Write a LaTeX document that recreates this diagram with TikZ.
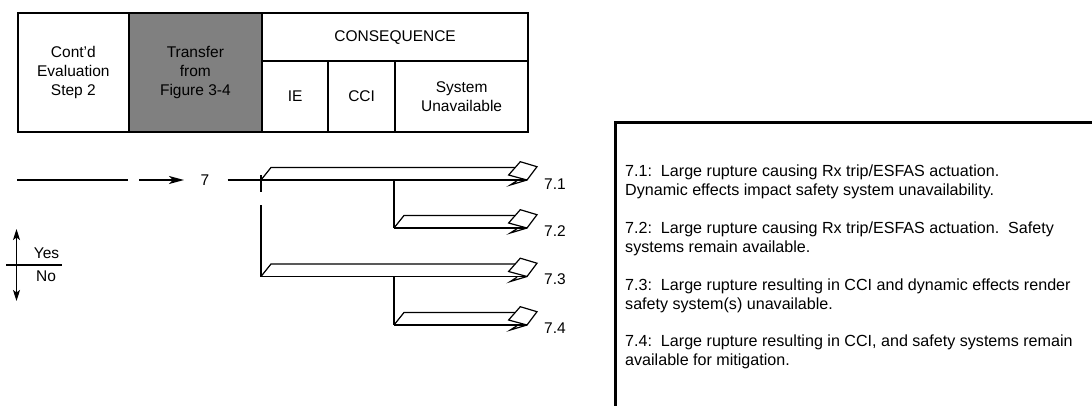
\documentclass[tikz,border=0pt]{standalone}
\usepackage{fontspec}
\setmainfont{Liberation Sans}
\usetikzlibrary{arrows.meta,calc}

\tikzset{
  txt/.style={inner sep=0pt, font=\fontsize{15.5}{19}\selectfont},
  cell/.style={txt, draw, line width=2.2pt, anchor=north west, align=center},
  wire/.style={line width=1.2pt},
  note/.style={inner sep=0pt, anchor=base west, font=\fontsize{16.1}{19}\selectfont},
  notebox/.style={draw, line width=3pt, anchor=north west, inner sep=0pt},
  bigtip/.style={-{Stealth[length=15pt,width=8pt,inset=4pt]}},
  legtip/.style={{Stealth[length=11pt,width=7pt,inset=2.5pt]}-{Stealth[length=11pt,width=7pt,inset=2.5pt]}},
}

% band with a perspective arrowhead: #1 start of the lower edge, #2 tip
\newcommand\drawband[2]{%
  \draw[wire] (#1) -- ++(10,-12.5) -- ($(#2)+(-12,-12.5)$);
  \draw[wire, line join=miter] (#2) -- ++(-18.4,-5) -- ++(11.7,-13.3) -- ++(16.7,5) -- cycle;
  \draw[wire] (#2) -- ++(-16.7,5) -- ++(6.7,-4.3);
}

\begin{document}
\begin{tikzpicture}[x=1pt, y=-1pt]
  \useasboundingbox (0,0) rectangle (1092,405);
  \clip (0,0) rectangle (1092,405);

  % header table
  \node[cell, minimum width=110.5pt, minimum height=119pt] (step) at (17,12) {Cont'd\\Evaluation\\Step 2};
  \node[cell, fill={rgb,255:red,128;green,128;blue,128}, minimum width=133.5pt, minimum height=119pt] (xfer) at (127.5,12) {Transfer\\from\\Figure 3-4};
  \node[cell, minimum width=266pt, minimum height=48pt] (cons) at (261,12) {CONSEQUENCE};
  \node[cell, minimum width=66pt, minimum height=71pt] (ie) at (261,60) {IE};
  \node[cell, minimum width=67pt, minimum height=71pt] (cci) at (327,60) {CCI};
  \node[cell, minimum width=133pt, minimum height=71pt] (sys) at (394,60) {System\\Unavailable};

  % entry line and transfer arrow
  \coordinate (a0) at (17,180);
  \coordinate (a1) at (127.5,180);
  \coordinate (a2) at (139,180);
  \coordinate (a3) at (184,180);
  \coordinate (a4) at (227.5,180);
  \node[txt, anchor=base] (n7) at (205,185.5) {7};
  \draw[wire] (a0) -- (a1);
  \draw[wire, bigtip] (a2) -- (a3);

  % branch points
  \coordinate (s1) at (261,180);
  \coordinate (s2) at (394,228);
  \coordinate (s3) at (261,276.5);
  \coordinate (s4) at (394,325);
  \coordinate (t1) at (527,180);
  \coordinate (t2) at (527,228);
  \coordinate (t3) at (527,276.5);
  \coordinate (t4) at (527,325);
  \coordinate (k1) at (261,175);
  \coordinate (k2) at (261,192);
  \coordinate (k3) at (261,205);
  \coordinate (m2) at (394,180);
  \coordinate (m4) at (394,276.5);

  % verticals
  \draw[wire] (k1) -- (k2);
  \draw[wire] (k3) -- (s3);
  \draw[wire] (m2) -- (s2);
  \draw[wire] (m4) -- (s4);

  % lower edges of the bands
  \draw[wire] (a4) -- (t1);
  \draw[wire] (s2) -- (t2);
  \draw[wire] (s3) -- (t3);
  \draw[wire] (s4) -- (t4);

  \drawband{s1}{t1}
  \drawband{s2}{t2}
  \drawband{s3}{t3}
  \drawband{s4}{t4}

  % end state labels
  \node[txt, anchor=base west] (e1) at (544,189) {7.1};
  \node[txt, anchor=base west] (e2) at (544,236) {7.2};
  \node[txt, anchor=base west] (e3) at (544,284.5) {7.3};
  \node[txt, anchor=base west] (e4) at (544,333) {7.4};

  % yes/no legend
  \coordinate (y0) at (16.5,229);
  \coordinate (y1) at (16.5,301);
  \coordinate (h0) at (6,265);
  \coordinate (h1) at (62,265);
  \draw[wire, legtip] (y0) -- (y1);
  \draw[wire] (h0) -- (h1);
  \node[txt, anchor=base] (yes) at (46.5,258.5) {Yes};
  \node[txt, anchor=base] (no) at (46,281.5) {No};

  % description box
  \node[notebox, minimum width=520pt, minimum height=320pt] (notes) at (614,121) {};
  \node[note] (d1) at (625,176.5) {7.1:\ \ Large rupture causing Rx trip/ESFAS actuation.};
  \node[note] (d2) at (625,195.5) {Dynamic effects impact safety system unavailability.};
  \node[note] (d3) at (625,233) {7.2:\ \ Large rupture causing Rx trip/ESFAS actuation.\ \ Safety};
  \node[note] (d4) at (625,252) {systems remain available.};
  \node[note] (d5) at (625,290.5) {7.3:\ \ Large rupture resulting in CCI and dynamic effects render};
  \node[note] (d6) at (625,309.5) {safety system(s) unavailable.};
  \node[note] (d7) at (625,346.5) {7.4:\ \ Large rupture resulting in CCI, and safety systems remain};
  \node[note] (d8) at (625,365.5) {available for mitigation.};
\end{tikzpicture}
\end{document}
